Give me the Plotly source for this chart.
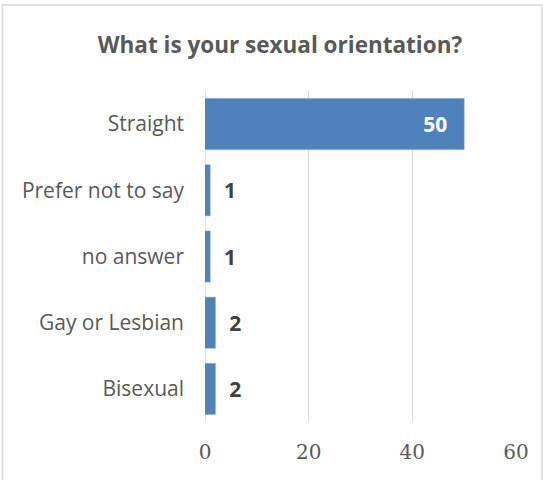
import plotly.graph_objects as go

categories = ["Straight", "Prefer not to say", "no answer", "Gay or Lesbian", "Bisexual"]
values = [50, 1, 1, 2, 2]
x_ticks = [0, 20, 40, 60]

title_text = "What is your sexual orientation?"

L, R, T, B = 205, 27, 91, 58
W, H = 543, 480
pw, ph = W - L - R, H - T - B

SANS = "Open Sans, sans-serif"

labels = [str(v) + "\u2002\u2009" if v >= 10 else "  " + str(v) for v in values]
text_pos = ["inside" if v >= 10 else "outside" for v in values]

fig = go.Figure(go.Bar(
    y=categories, x=values, orientation="h",
    marker=dict(color="#4F81BD", line=dict(color="#6C97CB", width=0.5)),
    text=labels, textposition=text_pos,
    insidetextanchor="end",
    outsidetextfont=dict(family=SANS, size=21, color="#404040", weight="bold"),
    insidetextfont=dict(family=SANS, size=21, color="white", weight="bold"),
    cliponaxis=False,
))

fig.update_layout(
    width=W, height=H,
    margin=dict(l=L, r=R, t=T, b=B, autoexpand=False),
    paper_bgcolor="white", plot_bgcolor="white",
    bargap=0.23,
    showlegend=False,
    uniformtext=dict(minsize=21, mode="show"),
    title=dict(text="<b>" + title_text + "</b>", x=280 / W, xanchor="center",
               y=1 - 45 / H, yanchor="middle",
               font=dict(family=SANS, size=22.5, color="#595959")),
    xaxis=dict(range=[0, 60], tickvals=x_ticks, ticktext=[str(t) for t in x_ticks],
               showgrid=True, gridcolor="#D9D9D9", gridwidth=1,
               zeroline=False, showline=False, ticks="", automargin=False,
               ticklabelstandoff=16,
               tickfont=dict(family="DejaVu Serif, serif", size=20, color="#595959")),
    yaxis=dict(categoryorder="array", categoryarray=categories[::-1],
               showgrid=False, zeroline=False, showline=False, ticks="", automargin=False,
               ticklabelstandoff=20,
               tickfont=dict(family=SANS, size=21, color="#595959")),
    shapes=[
        dict(type="rect", xref="paper", yref="paper",
             x0=(2.5 - L) / pw, x1=(542 - L) / pw,
             y0=-(B + 10) / ph, y1=(ph + T - 5) / ph,
             line=dict(color="#D9D9D9", width=1.5), fillcolor="rgba(0,0,0,0)", layer="below"),
        dict(type="line", xref="x", yref="paper", x0=0, x1=0, y0=0, y1=1,
             line=dict(color="#D9D9D9", width=1.5), layer="below"),
    ],
)

fig.write_html("out.html", config={"displayModeBar": False},
               post_script="document.body.style.margin='0';document.body.style.overflow='hidden';")
